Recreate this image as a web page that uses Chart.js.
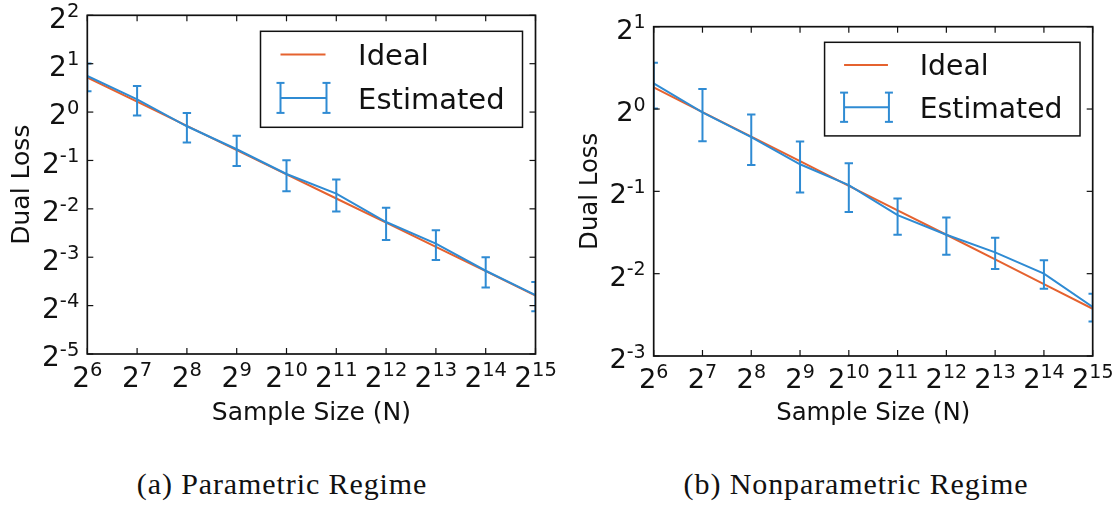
<!DOCTYPE html>
<html>
<head>
<meta charset="utf-8">
<script src="https://cdn.jsdelivr.net/npm/chart.js@4.4.1/dist/chart.umd.min.js"></script>
<style>
  body { margin: 0; background: #ffffff; width: 1115px; height: 505px; position: relative; overflow: hidden; }
  .panel { position: absolute; top: 0; width: 557px; height: 440px; }
  .caption {
    position: absolute;
    top: 467px;
    font-family: "Liberation Serif", serif;
    font-size: 30px;
    letter-spacing: 0.9px;
    color: #111111;
    white-space: nowrap;
    transform: translateX(-50%);
  }
</style>
</head>
<body>
<div class="panel" style="left: 0px"><canvas id="parametric" width="557" height="440"></canvas></div>
<div class="panel" style="left: 557px"><canvas id="nonparametric" width="558" height="440"></canvas></div>
<div class="caption" style="left: 282px">(a) Parametric Regime</div>
<div class="caption" style="left: 856px">(b) Nonparametric Regime</div>

<script>
// sample sizes 2^6 .. 2^15
var sampleExps = [6, 7, 8, 9, 10, 11, 12, 13, 14, 15]
var sampleSizes = [64, 128, 256, 512, 1024, 2048, 4096, 8192, 16384, 32768]

// parametric regime
var lossExpsA = [2, 1, 0, -1, -2, -3, -4, -5]
var idealA = [1.64, 1.16, 0.82, 0.58, 0.41, 0.29, 0.205, 0.145, 0.1025, 0.0722]
var estimatedA = [1.677, 1.201, 0.816, 0.587, 0.412, 0.311, 0.207, 0.152, 0.103, 0.0727]
var errorA = [0.33, 0.25, 0.17, 0.125, 0.09, 0.07, 0.047, 0.032, 0.022, 0.015]

// nonparametric regime
var lossExpsB = [1, 0, -1, -2, -3]
var idealB = [1.2, 0.975, 0.793, 0.645, 0.524, 0.426, 0.347, 0.282, 0.229, 0.186]
var estimatedB = [1.24, 0.973, 0.789, 0.628, 0.527, 0.409, 0.347, 0.299, 0.25, 0.189]
var errorB = [0.236, 0.21, 0.165, 0.133, 0.107, 0.062, 0.054, 0.039, 0.03, 0.022]

var orange = "#e5622f"
var blue = "#2f8bd3"
var ink = "#111111"
var sans = "'DejaVu Sans', sans-serif"

function points(values) {
  var out = []
  for (var i = 0; i < values.length; i++) {
    out.push({ x: sampleSizes[i], y: values[i] })
  }
  return out
}

function line(ctx, x1, y1, x2, y2) {
  ctx.beginPath()
  ctx.moveTo(x1, y1)
  ctx.lineTo(x2, y2)
  ctx.stroke()
}

// "2" with a raised exponent, like a mathtext tick label
function drawPower(ctx, exp, x, y, mode, s) {
  var baseSize = 28 * s
  var supSize = 19.5 * s
  var raise = 10.6 * s
  var txt = String(exp)
  ctx.font = baseSize + "px " + sans
  var bw = ctx.measureText("2").width
  ctx.font = supSize + "px " + sans
  var sw = ctx.measureText(txt).width
  var boxH = raise + 0.729 * supSize
  var left, baseline
  if (mode == "center") {
    left = x - (bw + sw) / 2
    baseline = y + boxH
  } else {
    left = x - (bw + sw)
    baseline = y + boxH / 2
  }
  ctx.textAlign = "left"
  ctx.textBaseline = "alphabetic"
  ctx.fillStyle = ink
  ctx.font = baseSize + "px " + sans
  ctx.fillText("2", left, baseline)
  ctx.font = supSize + "px " + sans
  ctx.fillText(txt, left + bw, baseline - raise)
}

function errorBar(ctx, x, top, bottom, cap) {
  line(ctx, x, top, x, bottom)
  line(ctx, x - cap, top, x + cap, top)
  line(ctx, x - cap, bottom, x + cap, bottom)
}

var mplAxes = {
  id: "mplAxes",
  afterDatasetsDraw: function (chart, args, opts) {
    var ctx = chart.ctx
    var area = chart.chartArea
    var xs = chart.scales.x
    var ys = chart.scales.y
    var s = opts.scale
    var w = area.right - area.left
    var h = area.bottom - area.top

    // error bars, clipped to the axes
    ctx.save()
    ctx.beginPath()
    ctx.rect(area.left, area.top, w, h)
    ctx.clip()
    ctx.strokeStyle = blue
    ctx.lineWidth = 2
    for (var i = 0; i < sampleSizes.length; i++) {
      var x = xs.getPixelForValue(sampleSizes[i])
      var top = ys.getPixelForValue(opts.estimated[i] + opts.errors[i])
      var bottom = ys.getPixelForValue(opts.estimated[i] - opts.errors[i])
      errorBar(ctx, x, top, bottom, 4.2)
    }
    ctx.restore()

    ctx.save()
    ctx.strokeStyle = ink
    ctx.lineWidth = 1.7
    ctx.strokeRect(area.left, area.top, w, h)

    // inward ticks on all four sides
    ctx.lineWidth = 1.2
    sampleExps.forEach(function (e) {
      var x = xs.getPixelForValue(Math.pow(2, e))
      line(ctx, x, area.bottom, x, area.bottom - 6)
      line(ctx, x, area.top, x, area.top + 6)
      drawPower(ctx, e, x, area.bottom + 8, "center", s)
    })
    opts.yExps.forEach(function (e) {
      var y = ys.getPixelForValue(Math.pow(2, e))
      line(ctx, area.left, y, area.left + 6, y)
      line(ctx, area.right, y, area.right - 6, y)
      drawPower(ctx, e, area.left - 8, y, "right", s)
    })

    // axis titles
    ctx.fillStyle = ink
    ctx.font = (25 * s) + "px " + sans
    ctx.textAlign = "center"
    ctx.textBaseline = "alphabetic"
    ctx.fillText("Sample Size (N)", area.left + w / 2, area.bottom + 66 * s)
    ctx.save()
    ctx.translate(area.left - 58 * s, area.top + h / 2)
    ctx.rotate(-Math.PI / 2)
    ctx.fillText("Dual Loss", 0, 0)
    ctx.restore()

    // legend
    var bw = 262 * s
    var bh = 96 * s
    var bx = area.right - 13 * s - bw
    var by = area.top + 16 * s
    ctx.fillStyle = "#ffffff"
    ctx.fillRect(bx, by, bw, bh)
    ctx.strokeStyle = ink
    ctx.lineWidth = 1.5
    ctx.strokeRect(bx, by, bw, bh)

    ctx.strokeStyle = orange
    ctx.lineWidth = 2
    line(ctx, bx + 20 * s, by + 23.3 * s, bx + 65 * s, by + 23.3 * s)

    ctx.strokeStyle = blue
    var ey = by + 66.6 * s
    line(ctx, bx + 20 * s, ey, bx + 66 * s, ey)
    errorBar(ctx, bx + 20 * s, ey - 15 * s, ey + 15 * s, 4)
    errorBar(ctx, bx + 66 * s, ey - 15 * s, ey + 15 * s, 4)

    ctx.fillStyle = ink
    ctx.font = (29 * s) + "px " + sans
    ctx.textAlign = "left"
    ctx.fillText("Ideal", bx + 97.6 * s, by + 34 * s)
    ctx.fillText("Estimated", bx + 97.6 * s, by + 77.6 * s)
    ctx.restore()
  }
}

function buildChart(id, cfg) {
  new Chart(document.getElementById(id), {
    type: "line",
    data: {
      datasets: [{
        label: "Ideal",
        data: points(cfg.ideal),
        borderColor: orange,
        borderWidth: 2,
        pointRadius: 0,
        order: 1
      }, {
        label: "Estimated",
        data: points(cfg.estimated),
        borderColor: blue,
        borderWidth: 2,
        pointRadius: 0,
        order: 0
      }]
    },
    options: {
      responsive: false,
      animation: false,
      layout: { padding: cfg.padding },
      scales: {
        x: { type: "logarithmic", min: 64, max: 32768, display: false },
        y: {
          type: "logarithmic",
          min: Math.pow(2, cfg.yExps[cfg.yExps.length - 1]),
          max: Math.pow(2, cfg.yExps[0]),
          display: false
        }
      },
      plugins: {
        legend: { display: false },
        tooltip: { enabled: false },
        mplAxes: {
          scale: cfg.scale,
          yExps: cfg.yExps,
          estimated: cfg.estimated,
          errors: cfg.errors
        }
      }
    },
    plugins: [mplAxes]
  })
}

buildChart("parametric", {
  ideal: idealA,
  estimated: estimatedA,
  errors: errorA,
  yExps: lossExpsA,
  scale: 1,
  padding: { left: 87.3, top: 15.3, right: 21.5, bottom: 86 }
})

buildChart("nonparametric", {
  ideal: idealB,
  estimated: estimatedB,
  errors: errorB,
  yExps: lossExpsB,
  scale: 0.975,
  padding: { left: 96.7, top: 26.7, right: 22.3, bottom: 84 }
})
</script>
</body>
</html>
